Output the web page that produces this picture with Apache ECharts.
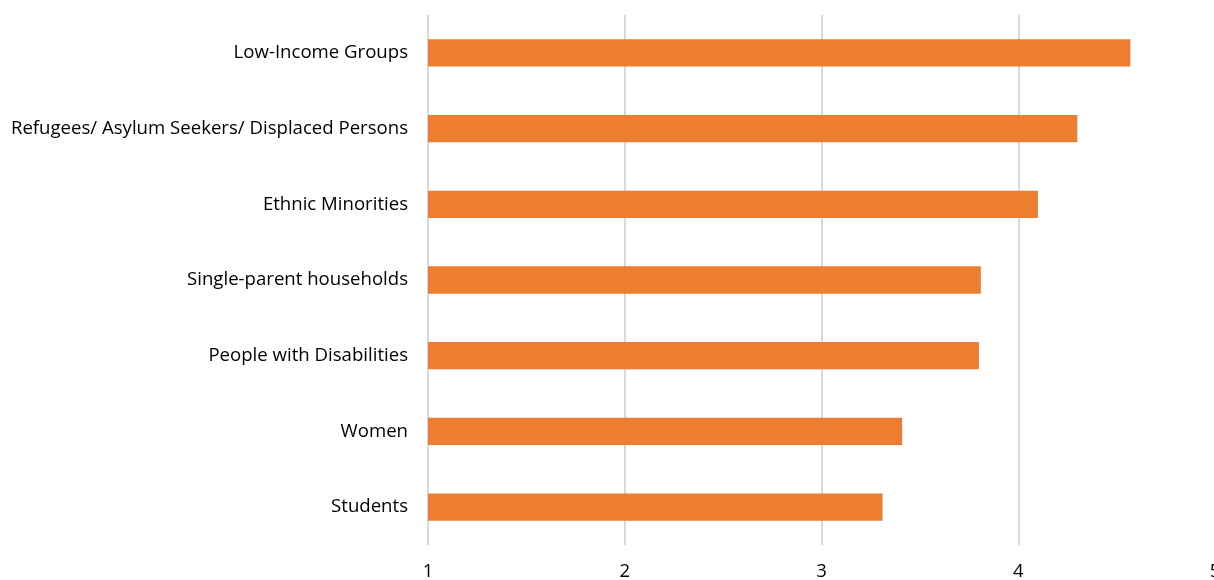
<!DOCTYPE html>
<html><head><meta charset="utf-8">
<script src="https://cdn.jsdelivr.net/npm/echarts@6/dist/echarts.min.js"></script>
<style>html,body{margin:0;padding:0;background:#fff}#c{width:1214px;height:580px}</style>
</head><body><div id="c"></div>
<script>
const categories = ["Students","Women","People with Disabilities","Single-parent households","Ethnic Minorities","Refugees/ Asylum Seekers/ Displaced Persons","Low-Income Groups"];
const values = [3.31, 3.41, 3.80, 3.81, 4.10, 4.30, 4.57];
const xTicks = [1,2,3,4,5];
const chart = echarts.init(document.getElementById('c'));
chart.setOption({
  animation:false,
  grid:{left:428, top:15, width:787, height:530, containLabel:false, outerBoundsMode:'none'},
  xAxis:{type:'value', min:xTicks[0], max:xTicks[xTicks.length-1], interval:1,
    axisLine:{show:false}, axisTick:{show:false},
    splitLine:{show:true, lineStyle:{color:'#d9d9d9', width:2}},
    axisLabel:{margin:17, fontSize:18.5, color:'#000', fontFamily:'Open Sans', showMaxLabel:true, hideOverlap:false}},
  yAxis:{type:'category', data:categories,
    axisLine:{show:false}, axisTick:{show:false},
    axisLabel:{margin:20, fontSize:18.6, color:'#000', fontFamily:'Open Sans'}},
  series:[{type:'bar', data:values, barWidth:'36%', itemStyle:{color:'#ED7D31'}}]
});
</script></body></html>
